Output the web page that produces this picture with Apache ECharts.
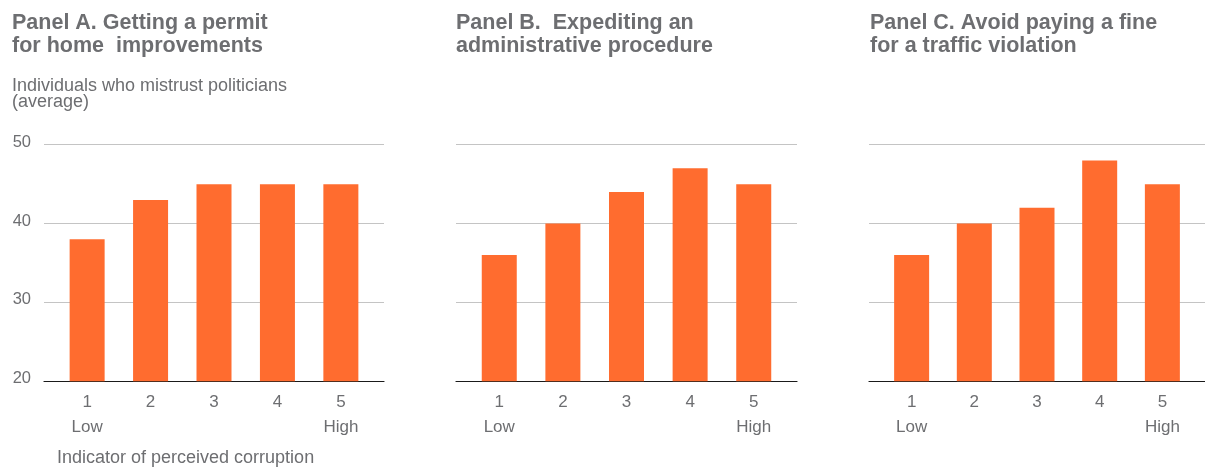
<!DOCTYPE html>
<html>
<head>
<meta charset="utf-8">
<script src="https://cdn.jsdelivr.net/npm/echarts@6/dist/echarts.min.js"></script>
<style>
html,body{margin:0;padding:0;background:#fff;}
#chart{width:1205px;height:470px;}
</style>
</head>
<body>
<div id="chart"></div>
<script>
// ---- data ----
const categories = [1, 2, 3, 4, 5];
const categoryEnds = ['Low', '', '', '', 'High'];
const panelTitles = [
  'Panel A. Getting a permit\nfor home  improvements',
  'Panel B.  Expediting an\nadministrative procedure',
  'Panel C. Avoid paying a fine\nfor a traffic violation'
];
const valuesA = [38, 43, 45, 45, 45];
const valuesB = [36, 40, 44, 47, 45];
const valuesC = [36, 40, 42, 48, 45];
const yTicks = [20, 30, 40, 50];
const yAxisTitle = 'Individuals who mistrust politicians\n(average)';
const xAxisTitle = 'Indicator of perceived corruption';

// ---- styling / layout ----
const FONT = '"Liberation Sans", Arial, Helvetica, sans-serif';
const TEXT = '#6d6e71';
const BAR = '#ff6c2f';
const panels = [
  { left: 44, width: 340, values: valuesA, titleX: 12 },
  { left: 456, width: 341, values: valuesB, titleX: 456 },
  { left: 869, width: 336, values: valuesC, titleX: 870 }
];
const gridTop = 144.7, gridHeight = 236.6;

const chart = echarts.init(document.getElementById('chart'), null, { renderer: 'canvas' });

const titles = panels.map((p, i) => ({
  text: panelTitles[i], left: p.titleX, top: 12, padding: 0,
  textStyle: { fontFamily: FONT, fontSize: 21.5, fontWeight: 'bold', color: TEXT, lineHeight: 23 }
}));
titles.push({
  text: yAxisTitle, left: 12, top: 78, padding: 0,
  textStyle: { fontFamily: FONT, fontSize: 18, fontWeight: 'normal', color: TEXT, lineHeight: 16 }
});
titles.push({
  text: xAxisTitle, left: 57, top: 449, padding: 0,
  textStyle: { fontFamily: FONT, fontSize: 18, fontWeight: 'normal', color: TEXT, lineHeight: 18 }
});

const grids = panels.map(p => ({ left: p.left, width: p.width, top: gridTop, height: gridHeight, containLabel: false }));

const xAxes = panels.map((p, i) => ({
  type: 'value', gridIndex: i, min: 0.32, max: 5.68,
  axisLine: { show: true, onZero: false, lineStyle: { color: '#1a1a1a', width: 1.2 } },
  axisTick: { show: false },
  splitLine: { show: false },
  axisLabel: {
    customValues: categories,
    margin: 9,
    fontFamily: FONT, fontSize: 17, color: TEXT, lineHeight: 25,
    formatter: v => {
      const idx = categories.indexOf(v);
      return String(v) + '\n' + (idx >= 0 ? categoryEnds[idx] : '');
    }
  }
}));

const yAxes = panels.map((p, i) => ({
  type: 'value', gridIndex: i, min: yTicks[0], max: yTicks[yTicks.length - 1], interval: yTicks[1] - yTicks[0],
  axisLine: { show: false },
  axisTick: { show: false },
  splitLine: { show: true, lineStyle: { color: '#c4c4c4', width: 1 } },
  axisLabel: {
    show: i === 0, margin: 13, align: 'right',
    fontFamily: FONT, fontSize: 16.5, color: TEXT,
    verticalAlign: 'bottom', lineHeight: 5
  }
}));

const series = panels.map((p, i) => ({
  type: 'bar', xAxisIndex: i, yAxisIndex: i,
  barWidth: 35,
  itemStyle: { color: BAR },
  silent: true,
  data: categories.map((c, k) => [c, p.values[k]])
}));

chart.setOption({
  animation: false,
  backgroundColor: '#ffffff',
  title: titles,
  grid: grids,
  xAxis: xAxes,
  yAxis: yAxes,
  series: series
});
</script>
</body>
</html>
